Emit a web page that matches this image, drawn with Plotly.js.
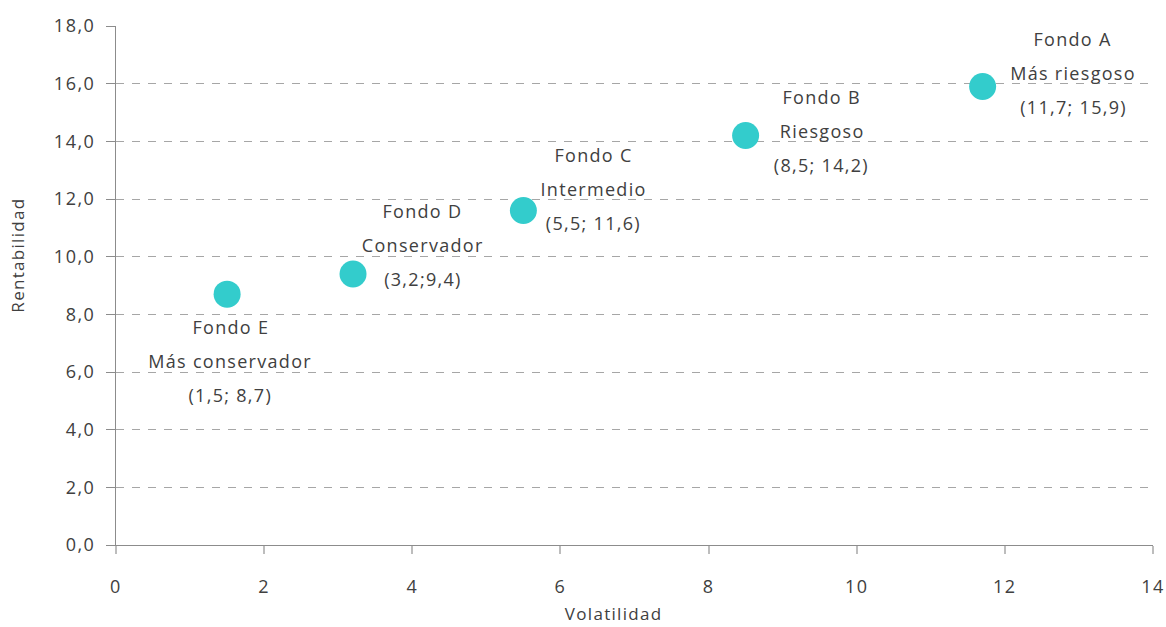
<!DOCTYPE html>
<html>
<head>
<meta charset="utf-8">
<script src="https://cdn.plot.ly/plotly-3.0.1.min.js"></script>
<style>
html,body{margin:0;padding:0;background:#fff;}
#chart{width:1166px;height:627px;}
#chart .annotation-text{letter-spacing:1.3px;}
#chart .xtick text, #chart .ytick text{letter-spacing:1.5px;}
</style>
</head>
<body>
<div id="chart"></div>
<script>
// Data
var fundNames = ["Fondo A", "Fondo B", "Fondo C", "Fondo D", "Fondo E"];
var fundTypes = ["Más riesgoso", "Riesgoso", "Intermedio", "Conservador", "Más conservador"];
var pointLabels = ["(11,7; 15,9)", "(8,5; 14,2)", "(5,5; 11,6)", "(3,2;9,4)", "(1,5; 8,7)"];
var volatility = [11.7, 8.5, 5.5, 3.2, 1.5];
var returns = [15.9, 14.2, 11.6, 9.4, 8.7];
// label anchor (centre of middle line), data coords
var labelX = [12.92, 9.53, 6.45, 4.14, 1.55];
var labelY = [16.37, 14.36, 12.35, 10.41, 6.38];
var xTicks = [0, 2, 4, 6, 8, 10, 12, 14];
var yTicks = [0, 2, 4, 6, 8, 10, 12, 14, 16, 18];
var xTitle = "Volatilidad";
var yTitle = "Rentabilidad";

var textColor = "#404040";
var fontFam = "Open Sans, Noto Sans, sans-serif";

var annotations = [];
var lineGap = 34; // px between label lines
for (var i = 0; i < fundNames.length; i++) {
  var lines = [fundNames[i], fundTypes[i], pointLabels[i]];
  for (var j = 0; j < 3; j++) {
    annotations.push({
      x: labelX[i], y: labelY[i], xref: "x", yref: "y",
      text: lines[j], showarrow: false,
      xanchor: "center", yanchor: "middle",
      yshift: (1 - j) * lineGap,
      font: {family: fontFam, size: 18, color: textColor}
    });
  }
}
annotations.push({
  text: yTitle, xref: "paper", yref: "paper",
  x: -0.095, y: 0.56, textangle: -90, showarrow: false,
  xanchor: "center", yanchor: "middle",
  font: {family: fontFam, size: 17, color: textColor}
});
annotations.push({
  text: xTitle, xref: "paper", yref: "paper",
  x: 0.4795, y: -0.1329, showarrow: false,
  xanchor: "center", yanchor: "middle", borderpad: 0,
  font: {family: fontFam, size: 17, color: textColor}
});

var trace = {
  x: volatility, y: returns, type: "scatter", mode: "markers",
  marker: {size: 27, color: "#33CCCC"},
  hoverinfo: "skip"
};

var layout = {
  width: 1166, height: 627,
  margin: {l: 116, r: 13, t: 26, b: 82},
  paper_bgcolor: "#ffffff", plot_bgcolor: "#ffffff",
  separators: ",.",
  showlegend: false,
  font: {family: fontFam, size: 18, color: textColor},
  xaxis: {
    range: [0, 14], tickvals: xTicks, tickformat: "d",
    showgrid: false, zeroline: false,
    showline: true, linecolor: "#8c8c8c", linewidth: 1,
    ticks: "outside", ticklen: 8, tickcolor: "#bdbdbd", tickwidth: 2,
    ticklabelstandoff: 17,
    tickfont: {family: fontFam, size: 18, color: textColor}
  },
  yaxis: {
    range: [0, 18], tickvals: yTicks, tickformat: ".1f",
    showgrid: true, gridcolor: "#a6a6a6", gridwidth: 1, griddash: "8px,8px",
    zeroline: false,
    showline: true, linecolor: "#8c8c8c", linewidth: 1,
    ticks: "outside", ticklen: 9, tickcolor: "#8c8c8c", tickwidth: 1,
    ticklabelstandoff: 7,
    tickfont: {family: fontFam, size: 18, color: textColor}
  },
  annotations: annotations
};

Plotly.newPlot("chart", [trace], layout, {staticPlot: true, displayModeBar: false});
</script>
</body>
</html>
